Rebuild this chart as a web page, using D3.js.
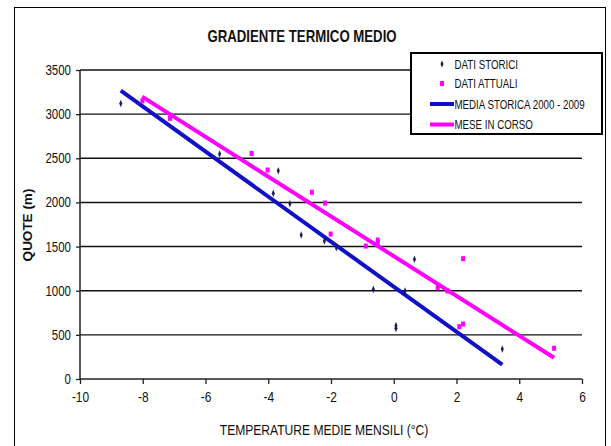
<!DOCTYPE html>
<html><head><meta charset="utf-8">
<script src="https://cdn.jsdelivr.net/npm/d3@7"></script>
<style>body{margin:0;background:#fff}svg{display:block}text{font-family:"Liberation Sans",Arial,sans-serif}</style>
</head><body>
<script>
// ---- data ----
const title = "GRADIENTE TERMICO MEDIO";
const xLabel = "TEMPERATURE MEDIE MENSILI (°C)";
const yLabel = "QUOTE (m)";
const xTicks = [-10, -8, -6, -4, -2, 0, 2, 4, 6];
const yTicks = [0, 500, 1000, 1500, 2000, 2500, 3000, 3500];
const seriesNames = ["DATI STORICI", "DATI ATTUALI", "MEDIA STORICA 2000 - 2009", "MESE IN CORSO"];
// historical data (temperature °C, altitude m)
const storiciT = [-8.7, -5.55, -3.68, -3.84, -3.31, -2.95, -2.21, -1.83, 0.66, -0.65, 0.36, 0.07, 0.07, 3.46];
const storiciQ = [3120, 2548, 2359, 2103, 1985, 1631, 1563, 1488, 1356, 1016, 997, 604, 574, 340];
// current data
const attualiT = [-8.01, -7.13, -4.53, -4.02, -2.61, -2.19, -2.01, -0.89, -0.51, -0.51, 2.21, 1.40, 1.71, 2.09, 2.21, 5.11];
const attualiQ = [3150, 2952, 2555, 2367, 2115, 1993, 1642, 1506, 1574, 1540, 1363, 1034, 997, 593, 623, 348];
// trend lines (endpoints)
const mediaT = [-8.7, 3.46];
const mediaQ = [3266, 162];
const meseT = [-8.02, 5.11];
const meseQ = [3198, 241];

const W = 611, H = 446;
const svg = d3.select("body").append("svg").attr("width", W).attr("height", H);

// outer frame
svg.append("rect").attr("x", 14.5).attr("y", 7.5).attr("width", 591).attr("height", 450)
  .attr("fill", "#fff").attr("stroke", "#000").attr("stroke-width", 1);

const x = d3.scaleLinear().domain([-10, 6]).range([80, 582]);
const y = d3.scaleLinear().domain([0, 3500]).range([379, 70]);
const fmt = d => String(d); // plain hyphen-minus like the original

// condensed text helper (horizontal squeeze)
function ctext(parent, px, py, str, size, sx, anchor, bold) {
  return parent.append("text")
    .attr("transform", `translate(${px},${py}) scale(${sx},1)`)
    .attr("text-anchor", anchor).attr("font-size", size)
    .attr("font-weight", bold ? "bold" : "normal").attr("fill", "#111").text(str);
}

// gridlines
svg.append("g").selectAll("line").data(yTicks.filter(d => d > 0)).join("line")
  .attr("x1", x(-10)).attr("x2", x(6)).attr("y1", d => y(d)).attr("y2", d => y(d))
  .attr("stroke", "#111").attr("stroke-width", 1.4);

// axes
const yAxis = d3.axisLeft(y).tickValues(yTicks).tickSize(4).tickPadding(5).tickFormat(fmt);
const gy = svg.append("g").attr("transform", `translate(${x(-10)},0)`).call(yAxis);
const xAxis = d3.axisBottom(x).tickValues(xTicks).tickSize(5).tickPadding(8).tickFormat(fmt);
const gx = svg.append("g").attr("transform", `translate(0,${y(0)})`).call(xAxis);
[gx, gy].forEach(g => {
  g.select(".domain").attr("stroke", "#222").attr("stroke-width", 1.5);
  g.selectAll(".tick line").attr("stroke", "#222").attr("stroke-width", 1.3);
  g.selectAll("text").attr("fill", "#111").attr("font-size", 14)
    .attr("font-family", "'Liberation Sans',Arial,sans-serif");
});
gx.selectAll(".tick text").attr("transform", "scale(0.85,1)");
gy.selectAll(".tick text").each(function () {
  const t = d3.select(this);
  const xx = +t.attr("x");
  t.attr("x", xx / 0.82).attr("transform", "scale(0.82,1)");
});
gx.select(".domain").attr("d", `M${x(-10)},0H${x(6)}`);
gy.select(".domain").attr("d", `M0,${y(0)}V${y(3500)}`);

// trend lines
const line = d3.line().x(d => x(d[0])).y(d => y(d[1]));
svg.append("path").datum(d3.zip(mediaT, mediaQ)).attr("d", line)
  .attr("stroke", "#1010c8").attr("stroke-width", 4).attr("fill", "none");
svg.append("path").datum(d3.zip(meseT, meseQ)).attr("d", line)
  .attr("stroke", "#ff00ff").attr("stroke-width", 4).attr("fill", "none");

// points
const diamond = d3.symbol().type(d3.symbolDiamond).size(10)();
svg.append("g").selectAll("path").data(d3.zip(storiciT, storiciQ)).join("path")
  .attr("d", diamond)
  .attr("transform", d => `translate(${x(d[0])},${y(d[1])}) scale(0.9,1.3)`)
  .attr("fill", "#1c1c60");
svg.append("g").selectAll("rect").data(d3.zip(attualiT, attualiQ)).join("rect")
  .attr("x", d => x(d[0]) - 2).attr("y", d => y(d[1]) - 2.5)
  .attr("width", 4).attr("height", 5).attr("fill", "#ff00ff");

// title & axis labels
ctext(svg, 302, 42, title, 16.5, 0.8, "middle", true);
ctext(svg, 324, 435, xLabel, 15.5, 0.78, "middle", false);
svg.append("text").attr("transform", "translate(32,225) rotate(-90)").attr("text-anchor", "middle")
  .attr("font-size", 13.5).attr("font-weight", "bold").attr("fill", "#111").text(yLabel);

// legend
const lg = svg.append("g");
lg.append("rect").attr("x", 411).attr("y", 53).attr("width", 191).attr("height", 81)
  .attr("fill", "#fff").attr("stroke", "#000").attr("stroke-width", 2);
const rowsY = [64, 83.5, 104, 124.5];
seriesNames.forEach((name, i) => {
  const cy = rowsY[i];
  if (i === 0) {
    lg.append("path").attr("d", diamond).attr("transform", `translate(442,${cy}) scale(0.9,1.3)`).attr("fill", "#1c1c60");
  } else if (i === 1) {
    lg.append("rect").attr("x", 440).attr("y", cy - 2.5).attr("width", 4).attr("height", 5).attr("fill", "#ff00ff");
  } else {
    lg.append("line").attr("x1", 430).attr("x2", 454).attr("y1", cy).attr("y2", cy)
      .attr("stroke", i === 2 ? "#1010c8" : "#ff00ff").attr("stroke-width", 4);
  }
  ctext(lg, 454.5, cy + 4.5, name, 12.5, 0.78, "start", false);
});
</script>
</body></html>
